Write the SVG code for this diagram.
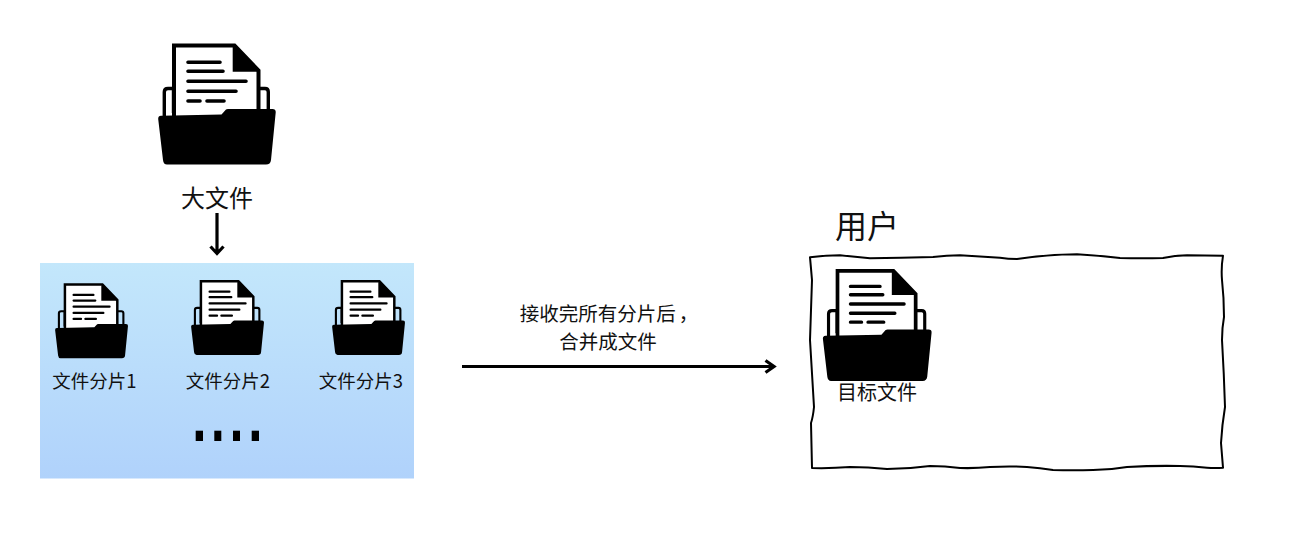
<svg xmlns="http://www.w3.org/2000/svg" width="1295" height="552" viewBox="0 0 1295 552">
<style>
text{font-family:"Noto Sans CJK SC","Liberation Sans",sans-serif;fill:#111;text-anchor:middle}
.l{font-size:18.500px}
.ln{fill:none;stroke:#000;stroke-width:3.600;stroke-linecap:round;stroke-linejoin:round}
.ar{fill:none;stroke:#000;stroke-width:3.200;stroke-linejoin:miter}
</style>
<defs>
<linearGradient id="bg" x1="0" y1="0" x2="0" y2="1"><stop offset="0" stop-color="#c3e7fb"/><stop offset="1" stop-color="#b0d2fb"/></linearGradient>
<g id="icon">
<path d="M173.500 113V88.500H168Q164.300 88.500 164.300 92V118M258 88.500H265Q268.300 88.500 268.300 92V113" fill="none" stroke="#000" stroke-width="3.400"/>
<path d="M174 118V45.500H234.500L258.500 70.500V112" fill="#fff" stroke="#000" stroke-width="4"/>
<path d="M232.700 47V71.700H257.500V70L235 46Z" fill="#000"/>
<path class="ln" d="M188 62.300H220M188 71.300H223M188 81.300H246M188 91.300H236M188 101H200M207 101H224"/>
<path d="M161 115.700L221.500 114.500L226 109.500Q226.500 109 228 109H272.500Q276 109 275.700 112.500L271 160Q270.500 164.500 266 164.500H167Q163.500 164.500 163 160L158.200 119Q158 116 161 115.700Z" fill="#000"/>
</g>
</defs>
<rect id="panel" x="40" y="263" width="374" height="215.500" fill="url(#bg)"/>
<g id="big-file"><use href="#icon"/><text x="217" y="207" font-size="24">大文件</text></g>
<g id="part-1"><use href="#icon" transform="translate(55 283.300) scale(.62) translate(-158 -43.500)"/><text class="l" x="94.500" y="388">文件分片1</text></g>
<g id="part-2"><use href="#icon" transform="translate(191 280) scale(.62) translate(-158 -43.500)"/><text class="l" x="228" y="388">文件分片2</text></g>
<g id="part-3"><use href="#icon" transform="translate(332 280) scale(.62) translate(-158 -43.500)"/><text class="l" x="361" y="388">文件分片3</text></g>
<g id="dots"><rect x="195.700" y="430.700" width="7.300" height="10.300"/><rect x="214.300" y="430.700" width="7" height="10.300"/><rect x="233" y="430.700" width="7" height="10.300"/><rect x="251.700" y="430.700" width="7.300" height="10.300"/></g>
<g id="user">
<text x="867" y="238" font-size="32">用户</text>
<path fill="#fff" stroke="#000" stroke-width="2" stroke-linejoin="round" d="M810 257.300Q825 255.500 840 255.300Q855 257 870 258.200Q900 258 933 257Q947 255.500 960 255.300Q980 256.500 1000 257.800Q1008 259 1017 259Q1047 254.500 1077 254.300Q1098 255.500 1120 258Q1142 258.500 1163 258Q1175 255.500 1187 255.200L1223 255.700Q1221 268 1222 280Q1224 298 1224 317Q1222 328 1222 340Q1224 374 1225 407Q1222 425 1221 443L1223 467.700Q1215 468.500 1207 467.700Q1193 466 1180 466Q1153 465.500 1127 467Q1110 470 1093 470Q1073 470.500 1053 470Q1040 468 1027 467Q1010 466 990 467Q975 468.500 960 468Q945 466 930 466Q908 469 887 469Q868 467 850 467Q831 468.500 812 468L811 423Q813 417 814 407Q812 373 810 340Q811 310 812 280Q811 268 810 257.300Z"/>
</g>
<g id="target"><use href="#icon" transform="translate(822.700 269) scale(.925) translate(-158 -43.500)"/><text x="877" y="400" font-size="20">目标文件</text></g>
<g id="connectors">
<path class="ar" d="M217 213V254M210.500 246.500L217 253.500L223.500 246.500"/>
<path class="ar" d="M462 366.500H774M765.500 360.500L774 366.500L765.500 372.500"/>
</g>
<g id="merge-label"><text x="609" y="321" font-size="19.500">接收完所有分片后<tspan dx="3">，</tspan></text><text x="608" y="349" font-size="19.500">合并成文件</text></g>
</svg>
